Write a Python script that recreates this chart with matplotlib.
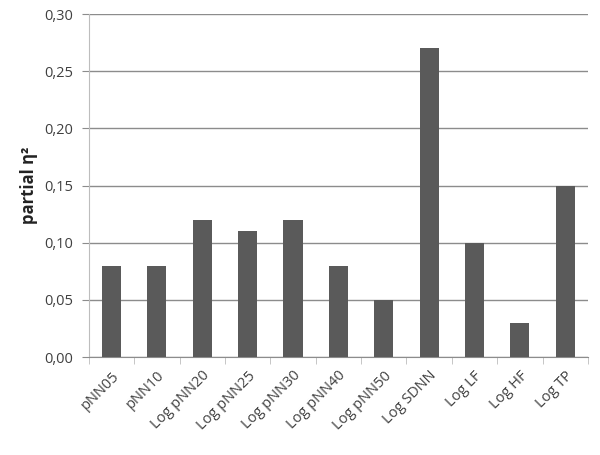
import matplotlib
matplotlib.use("Agg")
import matplotlib.pyplot as plt
import numpy as np
from matplotlib.ticker import FixedLocator, FuncFormatter

categories = ["pNN05", "pNN10", "Log pNN20", "Log pNN25", "Log pNN30", "Log pNN40",
              "Log pNN50", "Log SDNN", "Log LF", "Log HF", "Log TP"]
eta_sq = [0.08, 0.08, 0.12, 0.11, 0.12, 0.08, 0.05, 0.27, 0.10, 0.03, 0.15]
y_ticks = [0.00, 0.05, 0.10, 0.15, 0.20, 0.25, 0.30]

plt.rcParams['font.family'] = ['Open Sans', 'DejaVu Sans']

fig = plt.figure(figsize=(6, 4.55), dpi=100)
ax = fig.add_axes([0.148, 0.215, 0.832, 0.754])

x = np.arange(len(categories))
ax.bar(x, eta_sq, width=0.42, color="#5a5a5a", zorder=3)

ax.set_xlim(-0.5, len(categories) - 0.5)
ax.set_ylim(0, 0.30)
ax.set_yticks(y_ticks)
ax.yaxis.set_major_formatter(FuncFormatter(lambda v, p: f"{v:.2f}".replace(".", ",")))
ax.grid(axis="y", color="#8c8c8c", linewidth=1, zorder=0)

ax.set_xticks(x)
ax.set_xticklabels(categories, rotation=45, ha="right", rotation_mode="anchor")
ax.tick_params(axis="x", length=0, pad=8, labelsize=10.5, colors="#404040")
ax.xaxis.set_minor_locator(FixedLocator(np.arange(-0.5, len(categories), 1.0)))
ax.tick_params(axis="x", which="minor", length=5, color="#bdbdbd")
ax.tick_params(axis="y", length=5, color="#8c8c8c", labelsize=10.5, labelcolor="#404040", pad=6)

for s in ["top", "right"]:
    ax.spines[s].set_visible(False)
ax.spines["left"].set_color("#bdbdbd")
ax.spines["bottom"].set_color("#8c8c8c")

ax.set_ylabel("partial η²", fontsize=12, fontweight="bold", color="#222222", labelpad=5)

fig.savefig("out.png", dpi=100)
